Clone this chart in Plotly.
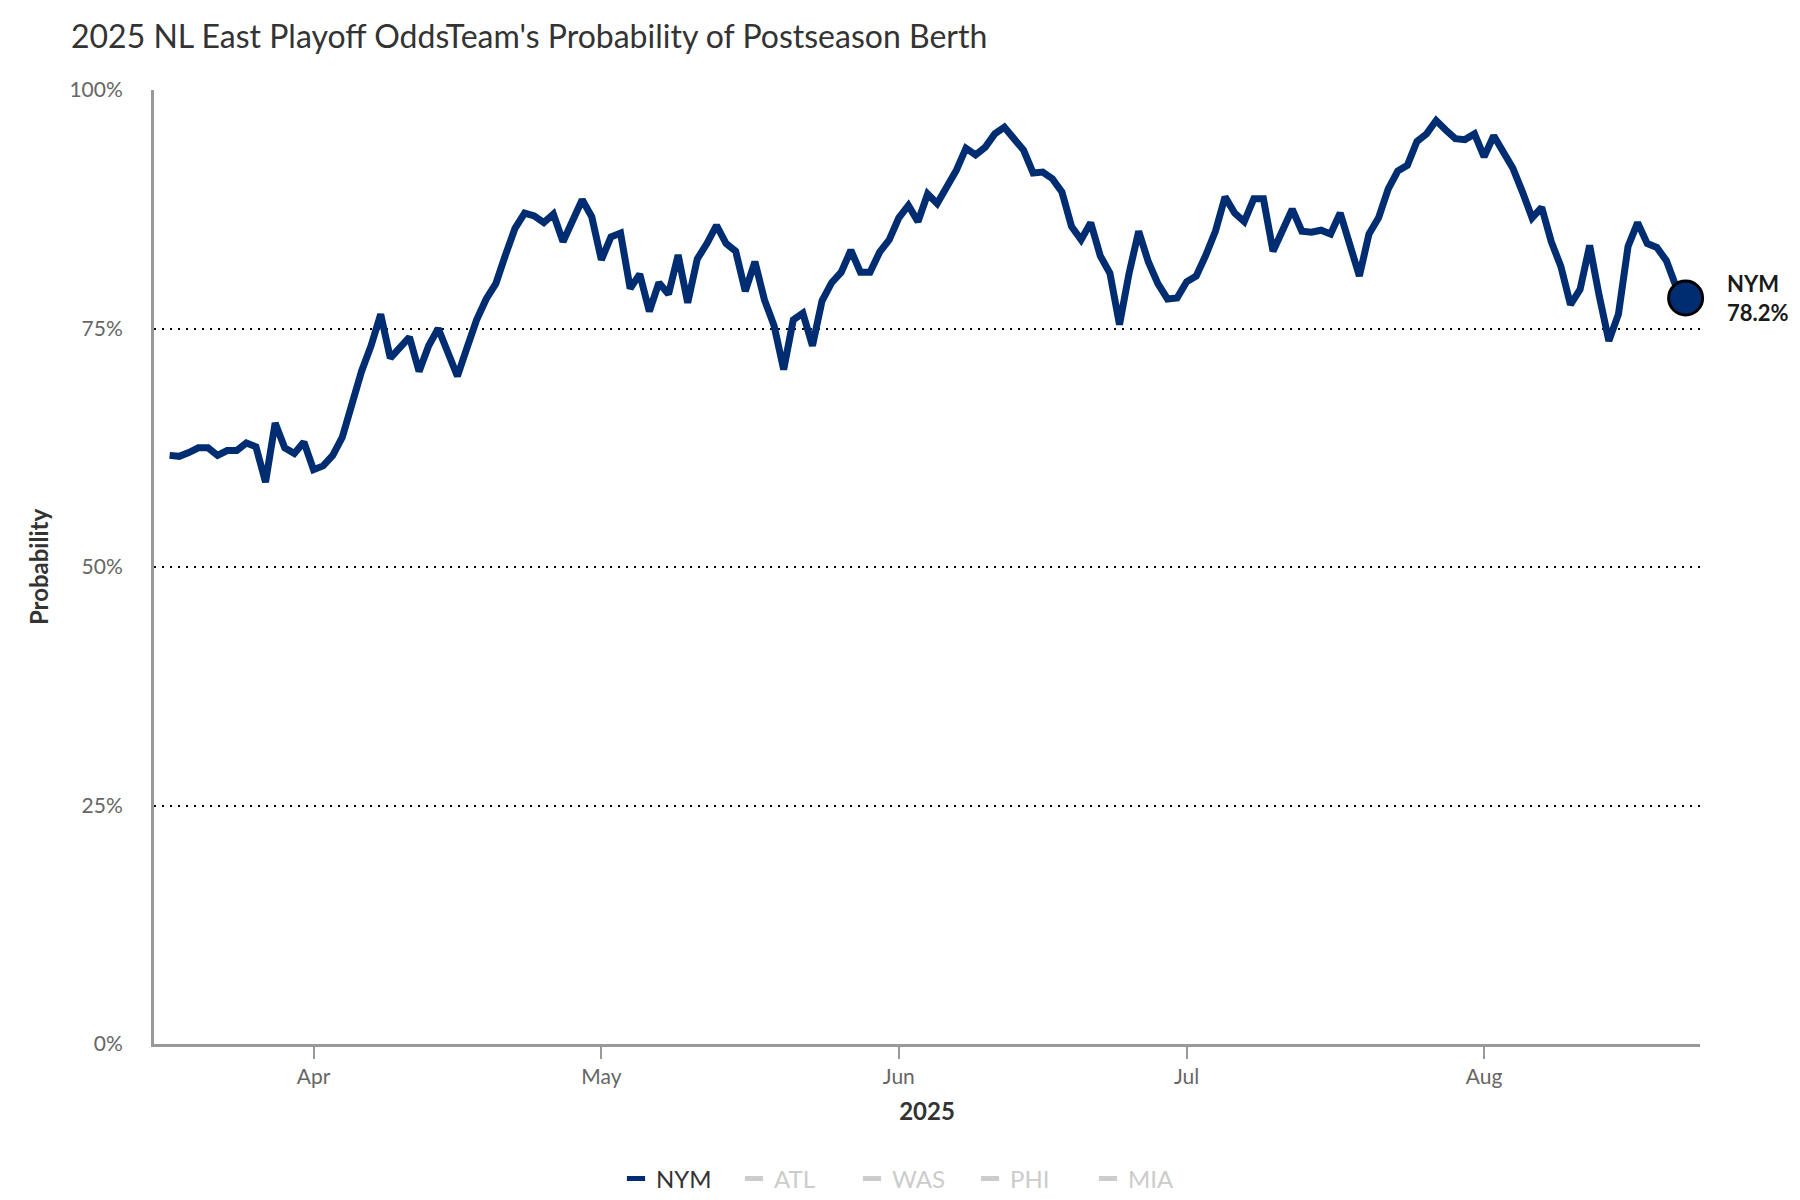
import pandas as pd
import plotly.graph_objects as go

# ---- data ----
start_date = "2025-03-17"
nym_prob = [
    # Mar 17 - Mar 31
    61.7, 61.6, 62.0, 62.5, 62.5, 61.7, 62.2, 62.2, 63.0, 62.6, 58.9, 65.1, 62.5, 61.9, 63.1,
    # Apr 1 - Apr 30
    60.2, 60.6, 61.7, 63.6, 67.3, 70.5, 73.2, 76.5, 71.9, 73.0, 74.1, 70.5, 73.2, 75.0, 72.3,
    70.0, 73.0, 75.9, 78.1, 79.7, 82.7, 85.5, 87.1, 86.8, 86.1, 87.0, 84.1, 86.4, 88.5, 86.7,
    # May 1 - May 31
    82.2, 84.6, 85.0, 79.2, 80.7, 76.8, 79.8, 78.6, 82.7, 77.7, 82.3, 83.9, 85.8, 83.9, 83.1,
    78.9, 82.0, 78.0, 75.3, 70.7, 75.9, 76.6, 73.2, 77.9, 79.8, 80.9, 83.2, 80.9, 80.9, 83.0, 84.3,
    # Jun 1 - Jun 30
    86.6, 87.9, 86.2, 89.1, 88.1, 89.8, 91.6, 93.9, 93.2, 94.0, 95.4, 96.1, 95.0, 93.7, 91.3,
    91.4, 90.7, 89.3, 85.7, 84.3, 86.1, 82.6, 80.8, 75.4, 80.8, 85.2, 82.0, 79.7, 78.1, 78.2,
    # Jul 1 - Jul 31
    79.9, 80.5, 82.7, 85.2, 88.8, 87.1, 86.2, 88.6, 88.6, 83.1, 85.3, 87.5, 85.2, 85.1, 85.3,
    84.9, 87.1, 83.6, 80.5, 84.9, 86.6, 89.6, 91.5, 92.1, 94.6, 95.4, 96.8, 95.8, 94.9, 94.8, 95.4,
    # Aug 1 - Aug 22
    93.0, 95.2, 93.5, 91.8, 89.3, 86.6, 87.7, 84.1, 81.5, 77.5, 79.1, 83.7, 78.4, 73.7, 76.5,
    83.6, 86.1, 83.9, 83.5, 82.1, 79.4, 78.2,
]
dates = pd.date_range(start_date, periods=len(nym_prob), freq="D")

teams = ["NYM", "ATL", "WAS", "PHI", "MIA"]
team_colors = ["#002D72", "#cccccc", "#cccccc", "#cccccc", "#cccccc"]
legend_text_colors = ["#333333", "#cccccc", "#cccccc", "#cccccc", "#cccccc"]

y_tickvals = [0, 25, 50, 75, 100]
y_ticktext = ["0%", "25%", "50%", "75%", "100%"]
x_tickvals = ["2025-04-01", "2025-05-01", "2025-06-01", "2025-07-01", "2025-08-01"]
x_ticktext = ["Apr", "May", "Jun", "Jul", "Aug"]
x_range = ["2025-03-15 09:00", "2025-08-23 12:00"]

title_text = "2025 NL East Playoff OddsTeam's Probability of Postseason Berth"

FONT = "Lato, 'Open Sans', sans-serif"
NAVY = "#002D72"

fig = go.Figure()

# main line
fig.add_trace(go.Scatter(
    x=dates, y=nym_prob, mode="lines", name="NYM", legendgroup="NYM",
    line=dict(color=NAVY, width=7), showlegend=False,
    hovertemplate="%{x|%b %d}: %{y:.1f}%<extra>NYM</extra>",
))

# end-point marker
fig.add_trace(go.Scatter(
    x=[dates[-1]], y=[nym_prob[-1]], mode="markers", legendgroup="NYM",
    marker=dict(size=34, color=NAVY, line=dict(color="#000000", width=3)),
    showlegend=False, cliponaxis=False, hoverinfo="skip",
))

# legend entries
for team, col, tcol in zip(teams, team_colors, legend_text_colors):
    fig.add_trace(go.Scatter(
        x=[None], y=[None], mode="markers", legendgroup=team,
        name=f"<span style='color:{tcol}'>{team}</span>",
        marker=dict(symbol="line-ew", size=13, color=col,
                    line=dict(color=col, width=5)),
        showlegend=True,
    ))

# end label
fig.add_annotation(
    x=dates[-1], y=nym_prob[-1], xref="x", yref="y",
    text=f"<b>{teams[0]}</b><br><b>{nym_prob[-1]:.1f}%</b>",
    showarrow=False, xanchor="left", yanchor="middle", align="left",
    xshift=39, font=dict(family=FONT, size=22, color="#1a1a1a"),
)

fig.update_layout(
    width=1800, height=1200,
    margin=dict(l=154, r=100, t=90, b=156),
    paper_bgcolor="white", plot_bgcolor="white",
    font=dict(family=FONT, color="#333333"),
    title=dict(text=title_text, x=71 / 1800, xanchor="left", xref="container",
               y=1 - 37 / 1200, yanchor="middle", yref="container",
               font=dict(family=FONT, size=32, color="#333333")),
    showlegend=True,
    legend=dict(orientation="h", x=911 / 1800, xanchor="center", xref="container",
                y=21 / 1200, yanchor="middle", yref="container",
                font=dict(family=FONT, size=24, color="#333333"),
                entrywidth=73, itemclick=False, itemdoubleclick=False),
    hovermode="closest",
)

fig.update_xaxes(
    type="date", range=x_range,
    tickvals=x_tickvals, ticktext=x_ticktext,
    showgrid=False, zeroline=False,
    showline=True, linecolor="#999999", linewidth=3,
    ticks="outside", ticklen=12, tickwidth=2, tickcolor="#999999",
    ticklabelstandoff=0,
    tickfont=dict(family=FONT, size=21, color="#666666"),
    title=dict(text="<b>2025</b>", standoff=16,
               font=dict(family=FONT, size=24, color="#333333")),
)

fig.update_yaxes(
    range=[0, 100], tickvals=y_tickvals, ticktext=y_ticktext,
    showgrid=True, gridcolor="#000000", gridwidth=2, griddash="2px,6px",
    zeroline=False,
    showline=True, linecolor="#999999", linewidth=3,
    ticks="", ticklabelstandoff=24,
    tickfont=dict(family=FONT, size=21, color="#666666"),
    title=dict(text="<b>Probability</b>", standoff=15,
               font=dict(family=FONT, size=24, color="#333333")),
)

fig.write_html("out.html", config={"displayModeBar": False},
               post_script="document.body.style.margin='0';document.body.style.overflow='hidden';")
